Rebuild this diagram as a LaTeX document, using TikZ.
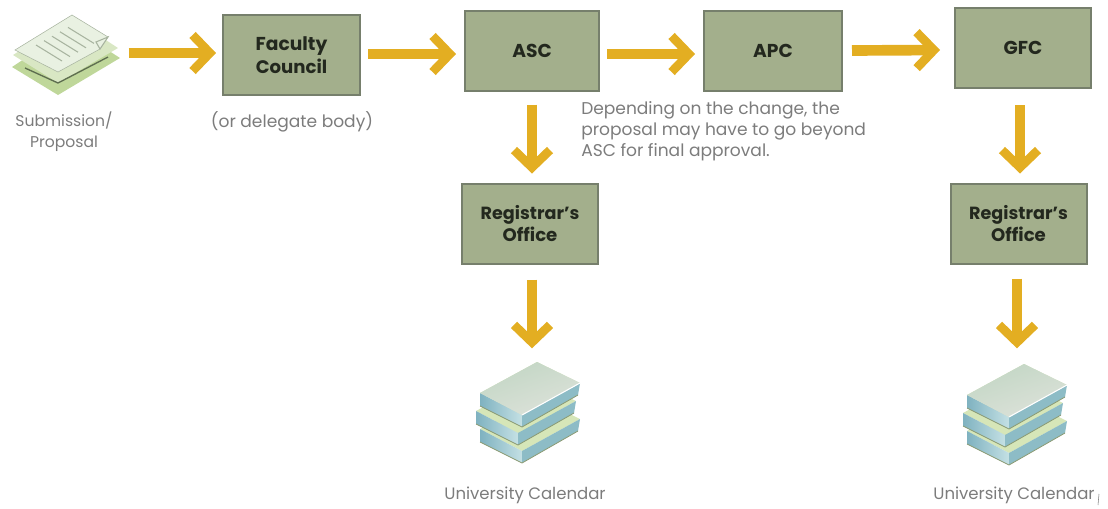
\documentclass[tikz,border=0pt]{standalone}
\usepackage{fontspec}
\setmainfont{Poppins}
\usetikzlibrary{arrows.meta,calc}
\definecolor{boxfill}{HTML}{A3AF8C}
\definecolor{boxline}{HTML}{767F6C}
\definecolor{flowc}{HTML}{E3AE22}
\definecolor{capc}{HTML}{7C7C7C}
\definecolor{inkc}{HTML}{23281E}
\definecolor{pagec}{HTML}{D6E6B8}
\definecolor{bluec}{HTML}{7FB2C0}
\definecolor{bluel}{HTML}{8DBCC6}
\definecolor{bluehi}{HTML}{C4E0E4}
\definecolor{edgec}{HTML}{8B9A72}
\definecolor{coverd}{HTML}{C2D6C4}
\definecolor{coverl}{HTML}{DDE2DA}
\definecolor{leafa}{HTML}{BFD79A}
\definecolor{leafb}{HTML}{D9E7C4}
\definecolor{leafc}{HTML}{E9F1E2}
\definecolor{leafd}{HTML}{5E6E50}
\definecolor{leafe}{HTML}{A8B4A0}
\tikzset{
  x=0.75pt,y=-0.75pt,
  panel/.style={draw=boxline,line width=1.5pt,fill=boxfill,inner sep=0pt,outer sep=0pt,
    align=center,text=inkc,font=\fontsize{13.6}{17}\selectfont\bfseries},
  panelw/.style={panel,minimum width=102pt,minimum height=60pt},
  caption/.style={text=capc,font=\fontsize{12.8}{15.8}\selectfont,align=center,inner sep=0pt},
  spot/.style={inner sep=0pt,outer sep=0pt,minimum size=1pt},
  flow/.style={draw=flowc,line width=8pt,
    -{Straight Barb[sharp,length=13pt,width=27pt,line width=6.6pt]}},
  pics/onebook/.style={code={
    \fill[pagec] (0,0) -- (43,21) -- (-15,53) -- (-57,31) -- cycle;
    \shade[left color=bluec,right color=bluehi]
      (-57,31) -- (-15,53) -- (-15,65) -- (-57,44) -- cycle;
    \fill[bluel] (-15,53) -- (43,21) -- (41,33) -- (-15,65) -- cycle;
    \draw[edgec,line width=.6pt] (-57,44) -- (-15,65) -- (41,33);
  }},
  pics/bookstack/.style={code={
    \pic at (0,36) {onebook};
    \pic at (-4,18) {onebook};
    \pic at (0,0) {onebook};
    \shade[left color=coverd,right color=coverl,shading angle=20]
      (0,0) -- (43,21) -- (-15,53) -- (-57,31) -- cycle;
    \draw[white,line width=.8pt] (43,21) -- (-15,53);
  }},
  pics/docstack/.style={code={
    \fill[leafa] (60,12) -- (108,43) -- (46,80) -- (0,52) -- cycle;
    \fill[leafb] (60,3) -- (106,33) -- (46,68) -- (1,40) -- cycle;
    \draw[leafd,line width=1pt] (13,53) -- (46,68) -- (96,42);
    \fill[leafc,draw=leafe,line width=.4pt] (60,0) -- (96,22) -- (88,34) -- (46,57) -- (3,35) -- cycle;
    \foreach \k in {0,1,2,3,4}{
      \draw[leafe,line width=.8pt] ($(24,30)+\k*(8,-4.4)$) -- ++(26,16);
    }
    \draw[leafe,line width=.8pt,fill=leafc] (96,22) -- (88,34) -- (84,27) -- cycle;
  }},
}
\begin{document}
\begin{tikzpicture}
\useasboundingbox (0,0) rectangle (1108,508);
% icons
\pic at (12,15) {docstack};
\pic at (537,362) {bookstack};
\pic at (1024,364) {bookstack};
\node[spot] (sub) at (120,53) {};
\node[spot] (cala) at (532,349) {};
\node[spot] (calb) at (1017,349) {};
% boxes
\node[panelw,minimum width=102.75pt] (fc) at (291.5,55) {\fontsize{14}{17}\selectfont Faculty\\Council};
\node[panelw,minimum width=100.5pt] (asc) at (532,50.5) {\fontsize{14}{17}\selectfont ASC};
\node[panelw,minimum width=103.5pt] (apc) at (773,50.5) {\fontsize{14}{17}\selectfont APC};
\node[panelw,minimum width=102pt] (gfc) at (1023,48) {\fontsize{14}{17}\selectfont GFC};
\node[panelw] (rega) at (530,223.5) {\fontsize{13.2}{17}\selectfont Registrar's\\Office};
\node[panelw] (regb) at (1018.5,223.5) {\fontsize{13.2}{17}\selectfont Registrar's\\Office};
% captions
\node[caption,font=\fontsize{11.7}{15.8}\selectfont] (subt) at (64,132) {Submission/\\Proposal};
\node[caption] (fct) at (292,122) {(or delegate body)};
\node[caption,align=left,anchor=north west] (note) at (581,101) {Depending on the change, the\\proposal may have to go beyond\\ASC for final approval.};
\node[caption,font=\fontsize{12.4}{15.8}\selectfont] (calat) at (525,495) {University Calendar};
\node[caption,font=\fontsize{12.4}{15.8}\selectfont] (calbt) at (1014,495) {University Calendar};
% connectors
\draw[flow] (sub.east) ++(8,0) -- ($(fc.west)+(-7,-2)$);
\draw[flow] ($(fc.east)+(8,-1)$) -- ($(asc.west)+(-9,3.5)$);
\draw[flow] ($(asc.east)+(8,3.5)$) -- ($(apc.west)+(-9,3.5)$);
\draw[flow] ($(apc.east)+(10,0)$) -- ($(gfc.west)+(-15,2)$);
\draw[flow] ($(asc.south)+(0,14)$) -- ($(rega.north)+(2,-10)$);
\draw[flow] ($(gfc.south)+(-3,17)$) -- ($(regb.north)+(1.5,-10)$);
\draw[flow] ($(rega.south)+(2,16)$) -- (cala);
\draw[flow] ($(regb.south)+(-1.5,15)$) -- (calb);
\draw[capc,line width=.4pt] (1099,494) -- (1098,505);
\end{tikzpicture}
\end{document}
